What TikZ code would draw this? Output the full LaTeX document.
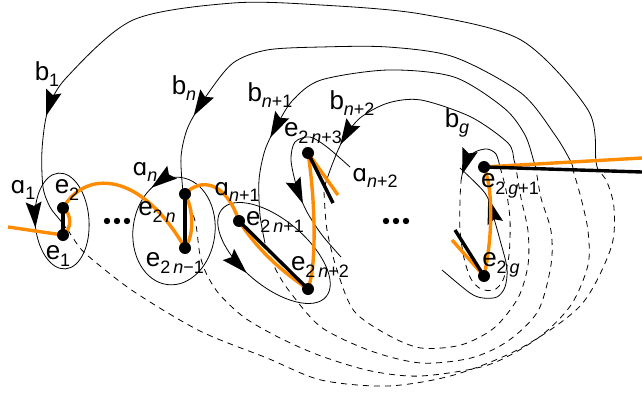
\documentclass[tikz,border=0pt]{standalone}
\usepackage{fontspec}
\setmainfont{Liberation Sans}
\newfontfamily\ipafont[Scale=0.9]{DejaVu Sans}
\usetikzlibrary{decorations.markings}
\definecolor{arancio}{RGB}{255,140,0}
\newcommand{\ind}[1]{\raisebox{-0.25em}{\fontsize{18}{18}\selectfont #1}}
\newcommand{\alfa}{{\ipafont ɑ}}

\begin{document}
\begin{tikzpicture}[x=1pt,y=-1pt,
    punto/.style={circle,fill,inner sep=0pt,minimum size=12pt},
    taglio/.style={line width=3.4pt},
    ramo/.style={arancio,line width=3.4pt},
    ciclo/.style={line width=0.8pt},
    dietro/.style={line width=0.8pt,dash pattern=on 6pt off 5pt},
    freccia/.style={postaction={decorate},decoration={markings,
      mark=at position #1 with {\fill (5pt,0pt) -- (-21pt,8pt) -- (-17pt,0pt) -- (-21pt,-8pt) -- cycle;}}},
    etichetta/.style={inner sep=0pt,font=\fontsize{26}{26}\selectfont}]
  \useasboundingbox (0,0) rectangle (642,396);
  % punti
  \coordinate (e1) at (63,235);
  \coordinate (e2) at (63,208);
  \coordinate (e2nm) at (185,248);
  \coordinate (e2n) at (185,194);
  \coordinate (e2np1) at (239,221);
  \coordinate (e2np2) at (308,289);
  \coordinate (e2np3) at (308,153);
  \coordinate (e2g) at (484,276);
  \coordinate (e2gp1) at (484,167);
  \coordinate (t3) at (333,203);
  \coordinate (o3) at (338,195);
  \coordinate (tg) at (455,230);
  \coordinate (og) at (452,240);
  \coordinate (tinf) at (642,172);
  \coordinate (oinf) at (642,158);
  \coordinate (oin) at (8,227);
  % cicli a
  \draw[ciclo,freccia=0.5,rotate around={4:(62,221)}] (62,221) ellipse [x radius=27pt,y radius=48pt];
  \draw[ciclo,freccia=0.34,rotate around={-7:(174,231)}] (174,231) ellipse [x radius=41pt,y radius=54pt];
  \draw[ciclo,freccia=0.71,rotate around={-40:(274,253)}] (274,253) ellipse [x radius=68pt,y radius=33pt];
  \draw[ciclo,freccia=0.64] plot[smooth] coordinates {(350,167) (327,147) (310,137) (295,142) (291,160) (297,188) (307,212) (322,235) (341,257)};
  \draw[ciclo,freccia=0.78] plot[smooth] coordinates {(442,270) (470,293) (483,298) (497,297) (505,287) (507,268) (500,240) (492,212) (485,193) (460,168)};
  % cicli b, parte davanti
  \draw[ciclo,freccia=0.846] plot[smooth] coordinates {(599,171) (596,162) (588,110) (521,40) (421,14) (321,5) (233,3) (133,20) (67,77) (48,110) (42,150) (43,187) (50,207) (60,220) (66,228)};
  \draw[ciclo,freccia=0.845] plot[smooth] coordinates {(573,170) (571,162) (555,135) (521,93) (454,57) (388,47) (321,47) (267,50) (233,63) (207,95) (188,127) (181,157) (183,192)};
  \draw[ciclo,freccia=0.75] plot[smooth] coordinates {(536,169) (534,162) (525,135) (504,108) (454,77) (388,70) (321,80) (293,100) (277,125) (265,150) (259,180) (260,215) (265,243)};
  \draw[ciclo,freccia=0.81] plot[smooth] coordinates {(516,168) (514,160) (508,143) (471,117) (421,100) (388,103) (360,118) (343,140) (332,165) (324,188)};
  \draw[ciclo,freccia=0.82] plot[smooth] coordinates {(500,167) (496,154) (487,149) (475,152) (467,161) (462,175) (461,182)};
  % cicli b, parte dietro
  \draw[dietro] plot[smooth] coordinates {(68,230) (75,241) (87,255) (133,291) (200,331) (267,358) (321,380) (388,386) (454,375) (521,348) (581,305) (611,248) (614,208) (607,182) (599,171)};
  \draw[dietro] plot[smooth] coordinates {(190,205) (196,225) (200,255) (207,275) (220,295) (245,318) (280,338) (321,356) (371,371) (421,376) (488,365) (538,338) (571,305) (588,265) (588,231) (581,198) (573,170)};
  \draw[dietro] plot[smooth] coordinates {(267,247) (276,270) (290,292) (321,327) (371,351) (421,363) (471,358) (508,341) (538,311) (551,265) (551,231) (541,198) (536,169)};
  \draw[dietro] plot[smooth] coordinates {(324,192) (327,230) (337,270) (354,311) (388,335) (421,348) (461,345) (494,328) (518,298) (528,265) (528,231) (521,198) (516,168)};
  \draw[dietro] plot[smooth] coordinates {(500,167) (506,190) (510,220) (509,255) (503,280) (494,290) (481,289) (471,279) (464,258) (460,230) (460,200) (461,182)};
  % cammino arancione
  \draw[ramo] (oin) -- (e1) .. controls +(9,-6) and +(9,6) .. (e2)
    .. controls (85,170) and (140,170) .. (e2nm)
    .. controls +(10,-14) and +(8,14) .. (e2n)
    .. controls (200,178) and (225,180) .. (e2np1)
    .. controls (257,249) and (281,271) .. (e2np2)
    .. controls (318,262) and (314,190) .. (e2np3) -- (o3);
  \draw[ramo] (og) -- (e2g) .. controls (492,240) and (494,192) .. (e2gp1) -- (oinf);
  % tagli
  \draw[taglio] (e1) -- (e2);
  \draw[taglio] (e2nm) -- (e2n);
  \draw[taglio] (e2np1) -- (e2np2);
  \draw[taglio] (e2np3) -- (t3);
  \draw[taglio] (e2g) -- (tg);
  \draw[taglio] (e2gp1) -- (tinf);
  \foreach \p in {e1,e2,e2nm,e2n,e2np1,e2np2,e2np3,e2g,e2gp1}
    \node[punto] (p\p) at (\p) {};
  % puntini
  \foreach \x in {107,117,127,386,396,406} \fill (\x,221) circle[radius=3.2];
  % etichette
  \node[etichetta] (lb1) at (47,74) {b\ind{1}};
  \node[etichetta] (lbn) at (184,88) {b\ind{\textit{n}}};
  \node[etichetta] (lbn1) at (270,95) {b\ind{\textit{n}+1}};
  \node[etichetta] (lbn2) at (352,103) {b\ind{\textit{n}+2}};
  \node[etichetta] (lbg) at (457,123) {b\ind{\textit{g}}};
  \node[etichetta] (la1) at (23,190) {\alfa\ind{1}};
  \node[etichetta] (lan) at (145,172) {\alfa\ind{\textit{n}}};
  \node[etichetta] (lan1) at (237,192) {\alfa\ind{\textit{n}+1}};
  \node[etichetta] (lan2) at (375,178) {\alfa\ind{\textit{n}+2}};
  \node[etichetta] (le1) at (58,256) {e\ind{1}};
  \node[etichetta] (le2) at (67,190) {e\ind{2}};
  \node[etichetta] (le2n) at (157,212) {e\ind{2\,\textit{n}}};
  \node[etichetta] (le2nm) at (175,263) {e\ind{2\,\textit{n}−1}};
  \node[etichetta] (le2np1) at (275,222) {e\ind{2\,\textit{n}+1}};
  \node[etichetta] (le2np2) at (320,267) {e\ind{2\,\textit{n}+2}};
  \node[etichetta] (le2np3) at (313,133) {e\ind{2\,\textit{n}+3}};
  \node[etichetta] (le2g) at (501,265) {e\ind{2\,\textit{g}}};
  \node[etichetta] (le2gp1) at (510,186) {e\ind{2\,\textit{g}+1}};
\end{tikzpicture}
\end{document}
